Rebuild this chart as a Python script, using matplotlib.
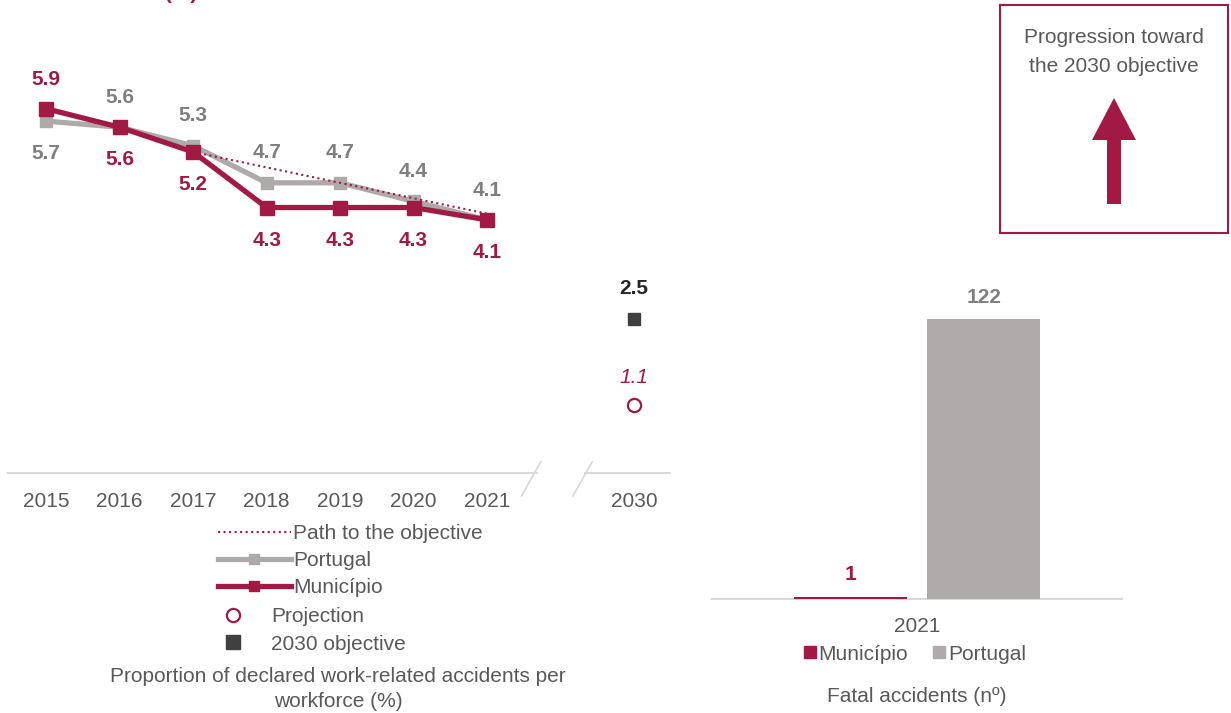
import matplotlib
matplotlib.use("Agg")
import matplotlib.pyplot as plt
from matplotlib.lines import Line2D
from matplotlib.patches import Patch

plt.rcParams['font.family'] = ['Liberation Sans', 'DejaVu Sans']

#---Data (left chart):
years = ['2015', '2016', '2017', '2018', '2019', '2020', '2021']
municipio = [5.9, 5.6, 5.2, 4.3, 4.3, 4.3, 4.1]
portugal = [5.7, 5.6, 5.3, 4.7, 4.7, 4.4, 4.1]
path_years = ['2017', '2018', '2019', '2020', '2021']
path_values = [5.2, 4.95, 4.7, 4.45, 4.2]
target_year = '2030'
objective_2030 = 2.5
projection_2030 = 1.1

#---Data (right chart):
fatal_year = ['2021']
fatal_series = ['Município', 'Portugal']
fatal_values = [1, 122]

#---Colours:
CRIMSON = '#A21A43'
GREY_LINE = '#AEAAAA'
GREY_LABEL = '#7F7F7F'
GREY_TEXT = '#595959'
DARK = '#404040'
AXIS = '#D9D9D9'

W, H = 1231, 713
fig = plt.figure(figsize=(W / 100, H / 100), dpi=100)

#---Title, cut off at the very top as in the source:
fig.text(197 / W, 1 + 1 / H, 'Work-related accidents (%)', ha='right', va='baseline',
         color=CRIMSON, fontsize=15, fontweight='bold')

#=========Left chart:
ax1 = fig.add_axes([8 / W, (H - 473) / H, 662 / W, (473 - 47) / H])
xpos = {y: i for i, y in enumerate(years)}
xpos[target_year] = len(years) + 1
xs = [xpos[y] for y in years]
px = [xpos[y] for y in path_years]

ax1.plot(xs, portugal, color=GREY_LINE, lw=3.8, marker='s', ms=8.5, zorder=2)
ax1.plot(px, path_values, color=CRIMSON, lw=1.5, ls=':', zorder=3)
ax1.plot(xs, municipio, color=CRIMSON, lw=3.8, marker='s', ms=10, zorder=4)
ax1.plot([xpos[target_year]], [objective_2030], marker='s', ms=9, color=DARK, ls='none', zorder=4)
ax1.plot([xpos[target_year]], [projection_2030], marker='o', ms=9.5, mfc='white',
         mec=CRIMSON, mew=1.6, ls='none', zorder=4)

#---Value labels:
for i, (x, v) in enumerate(zip(xs, municipio)):
    dy = 21 if i == 0 else -23.5
    ax1.annotate('{:.1f}'.format(v), (x, v), xytext=(0, dy), textcoords='offset points',
                 ha='center', va='center', color=CRIMSON, fontsize=15, fontweight='bold')
for i, (x, v) in enumerate(zip(xs, portugal)):
    dy = -23 if i == 0 else 21.5
    ax1.annotate('{:.1f}'.format(v), (x, v), xytext=(0, dy), textcoords='offset points',
                 ha='center', va='center', color=GREY_LABEL, fontsize=15, fontweight='bold')
ax1.annotate('{:.1f}'.format(objective_2030), (xpos[target_year], objective_2030), xytext=(0, 22),
             textcoords='offset points', ha='center', va='center', color='#262626',
             fontsize=15, fontweight='bold')
ax1.annotate('{:.1f}'.format(projection_2030), (xpos[target_year], projection_2030), xytext=(0, 20),
             textcoords='offset points', ha='center', va='center', color=CRIMSON,
             fontsize=15, fontstyle='italic')

ax1.set_xlim(-0.52, 8.49)
ax1.set_ylim(0, 6.9)
ax1.set_xticks(xs + [xpos[target_year]])
ax1.set_xticklabels(years + [target_year], fontsize=15, color=GREY_TEXT)
ax1.tick_params(axis='x', length=0, pad=14)
ax1.set_yticks([])
for s in ax1.spines.values():
    s.set_visible(False)

#---Broken axis line:
ax1.plot([-0.52, 6.68], [0, 0], color=AXIS, lw=1.5, clip_on=False)
ax1.plot([7.33, 8.49], [0, 0], color=AXIS, lw=1.5, clip_on=False)
for bx in (6.6, 7.3):
    ax1.plot([bx - 0.13, bx + 0.13], [-0.37, 0.18], color=AXIS, lw=1.3, clip_on=False)

#---Legends:
h_lines = [Line2D([], [], color=CRIMSON, lw=1.5, ls=':'),
           Line2D([], [], color=GREY_LINE, lw=3.8, marker='s', ms=7.5),
           Line2D([], [], color=CRIMSON, lw=3.8, marker='s', ms=7.5)]
fig.legend(h_lines, ['Path to the objective', 'Portugal', 'Município'],
           loc='upper left', bbox_to_anchor=(218 / W, 1 - 524 / H), frameon=False,
           handlelength=3.5, handletextpad=0.1, labelspacing=0.38, borderpad=0,
           borderaxespad=0, fontsize=15, labelcolor=GREY_TEXT)
h_marks = [Line2D([], [], marker='o', ms=9.5, mfc='white', mec=CRIMSON, mew=1.6, ls='none'),
           Line2D([], [], marker='s', ms=10, color=DARK, ls='none')]
fig.legend(h_marks, ['Projection', '2030 objective'],
           loc='upper left', bbox_to_anchor=(223 / W, 1 - 607 / H), frameon=False,
           handlelength=1.0, handletextpad=1.3, labelspacing=0.42, borderpad=0,
           borderaxespad=0, fontsize=15, labelcolor=GREY_TEXT)

fig.text(338 / W, 1 - 689 / H, 'Proportion of declared work-related accidents per\nworkforce (%)',
         ha='center', va='center', fontsize=15, color=GREY_TEXT, linespacing=1.45)

#=========Right chart:
ax2 = fig.add_axes([712 / W, (H - 599) / H, 410 / W, 321 / H])
bar_w = 0.55
offsets = [-0.325, 0.325]
bar_colors = [CRIMSON, '#AFABAA']
label_colors = [CRIMSON, GREY_LABEL]
for name, v, off, c, lc in zip(fatal_series, fatal_values, offsets, bar_colors, label_colors):
    ax2.bar(off, v, width=bar_w, color=c, label=name)
    ax2.annotate(str(v), (off, v), xytext=(0, 16), textcoords='offset points', ha='center',
                 va='center', color=lc, fontsize=15, fontweight='bold')
ax2.set_xlim(-1, 1)
ax2.set_ylim(0, 140)
ax2.set_xticks([0])
ax2.set_xticklabels(fatal_year, fontsize=15, color=GREY_TEXT)
ax2.tick_params(axis='x', length=0, pad=13)
ax2.set_yticks([])
for k, s in ax2.spines.items():
    s.set_visible(k == 'bottom')
ax2.spines['bottom'].set_color(AXIS)
ax2.spines['bottom'].set_linewidth(1.5)
ax2.spines['bottom'].set_zorder(0)

h_bars = [Patch(color=c) for c in bar_colors]
fig.legend(h_bars, fatal_series, loc='center', bbox_to_anchor=(915 / W, 1 - 654 / H), ncol=2,
           frameon=False, handlelength=0.55, handleheight=0.55, handletextpad=0.15,
           columnspacing=1.2, borderpad=0, fontsize=15, labelcolor=GREY_TEXT)
fig.text(917 / W, 1 - 697 / H, 'Fatal accidents (nº)', ha='center', va='center',
         fontsize=15, color=GREY_TEXT)

#=========Progression box:
ax3 = fig.add_axes([1000 / W, (H - 233) / H, 228 / W, 228 / H])
ax3.set_xlim(0, 228)
ax3.set_ylim(228, 0)
ax3.set_xticks([])
ax3.set_yticks([])
for s in ax3.spines.values():
    s.set_color(CRIMSON)
    s.set_linewidth(1.5)
ax3.text(114, 47, 'Progression toward\nthe 2030 objective', ha='center', va='center',
         fontsize=15, color=GREY_TEXT, linespacing=1.65)
ax3.arrow(114, 199, 0, -106, width=14, head_width=44, head_length=42,
          length_includes_head=True, color=CRIMSON, lw=0)

fig.savefig('out.png', dpi=100)
